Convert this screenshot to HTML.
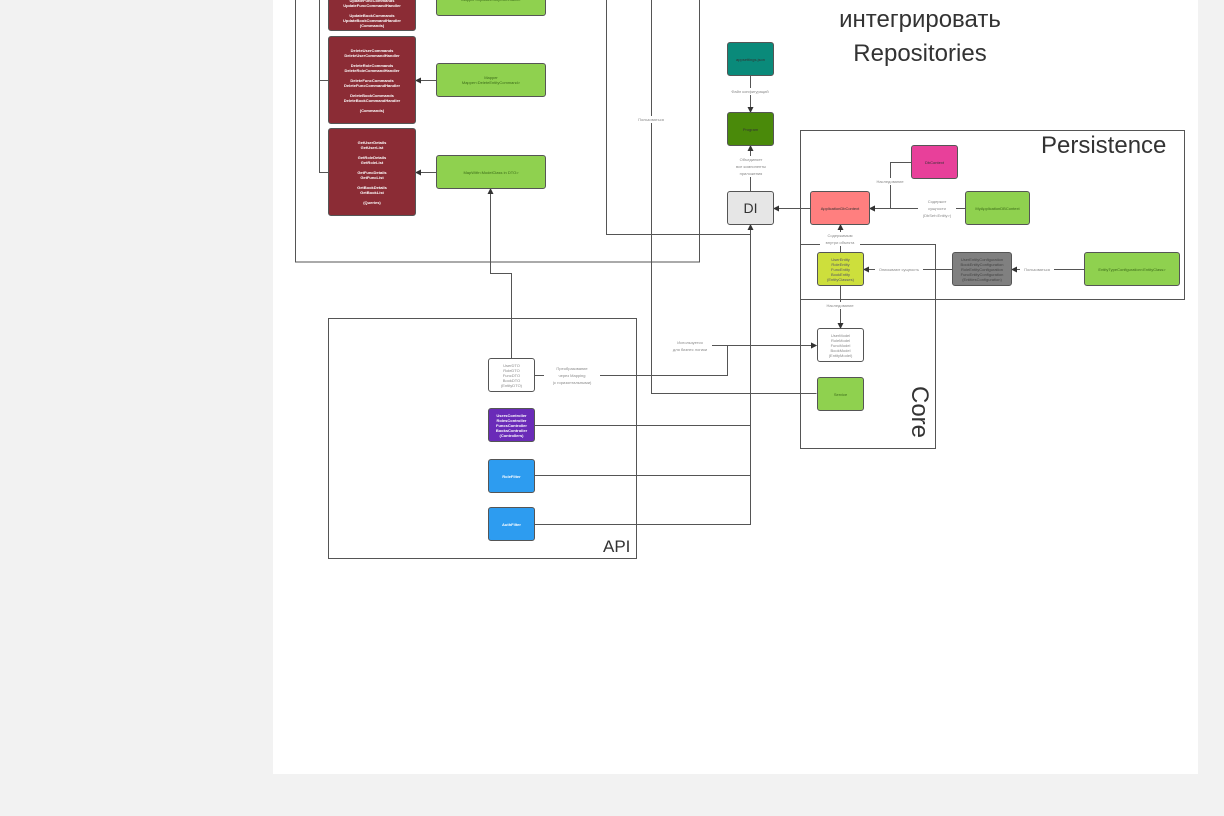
<!DOCTYPE html>
<html><head><meta charset="utf-8"><style>
body{margin:0;width:1224px;height:816px;background:#f2f2f2;position:relative;overflow:hidden;font-family:"Liberation Sans","DejaVu Sans",sans-serif}
.c{position:absolute;left:273px;top:0;width:925px;height:774px;background:#fff}
.n{position:absolute;box-sizing:border-box;border:1px solid #555;border-radius:3px;display:flex;align-items:center;justify-content:center;text-align:center;font-size:4px;line-height:5px;color:#333}
.r{background:#8b2c35;color:#fff;font-weight:bold}
.g{background:#8fd14f;color:#3c6a1a}
.t{position:absolute;color:#333;font-family:"Liberation Sans","DejaVu Sans",sans-serif}
.l{position:absolute;font-size:4px;color:#888;background:#fff;text-align:center;line-height:7px}
</style></head><body>
<div class="c"></div>
<svg width="1224" height="816" style="position:absolute;left:0;top:0">
<defs><marker id="a" markerWidth="6" markerHeight="6" refX="5" refY="3" orient="auto"><path d="M0,0L6,3L0,6z" fill="#333"/></marker></defs>
<g fill="none" stroke="#555" stroke-width="1">
<rect x="295.5" y="-5" width="404" height="267"/>
<rect x="800.5" y="130.5" width="384" height="169"/>
<rect x="800.5" y="244.5" width="135" height="204"/>
<rect x="328.5" y="318.5" width="308" height="240"/>
<path d="M606.5,0V234.5H750.5"/>
<path d="M651.5,0V393.5H816.5"/>
<path d="M319.5,0V172.5H328M319.5,80.5H328"/>
<path d="M534,425.5H750.5"/><path d="M534,475.5H750.5"/>
</g>
<g fill="none" stroke="#555" stroke-width="1" marker-end="url(#a)">
<path d="M436,80.5H416"/><path d="M436,172.5H416"/>
<path d="M750.5,76V112"/><path d="M750.5,191V146"/>
<path d="M810,208.5H774"/><path d="M911,162.5H890.5V208.5H870"/>
<path d="M965,208.5H870"/><path d="M840.5,252V225"/>
<path d="M952,269.5H864"/><path d="M1084,269.5H1012"/>
<path d="M840.5,286V328"/>
<path d="M511.5,358V273.5H490.5V189"/>
<path d="M534,375.5H727.5V345.5H816"/>
<path d="M670,345.5H816"/>
<path d="M534,524.5H750.5V225"/>
</g>
</svg>
<div class="n r" style="left:328px;top:-5px;width:88px;height:36px">UpdateFuncCommands<br>UpdateFuncCommandHandler<br><br>UpdateBookCommands<br>UpdateBookCommandHandler<br>(Commands)</div>
<div class="n r" style="left:328px;top:36px;width:88px;height:88px">DeleteUserCommands<br>DeleteUserCommandHandler<br><br>DeleteRoleCommands<br>DeleteRoleCommandHandler<br><br>DeleteFuncCommands<br>DeleteFuncCommandHandler<br><br>DeleteBookCommands<br>DeleteBookCommandHandler<br><br>(Commands)</div>
<div class="n r" style="left:328px;top:128px;width:88px;height:88px">GetUserDetails<br>GetUserList<br><br>GetRoleDetails<br>GetRoleList<br><br>GetFuncDetails<br>GetFuncList<br><br>GetBookDetails<br>GetBookList<br><br>(Queries)</div>
<div class="n g" style="left:436px;top:-18px;width:110px;height:34px">Mapper&lt;UpdateEntityCommand&gt;</div>
<div class="n g" style="left:436px;top:63px;width:110px;height:34px">Mapper<br>Mapper&lt;DeleteEntityCommand&gt;</div>
<div class="n g" style="left:436px;top:155px;width:110px;height:34px">MapWith&lt;ModelClass in DTO&gt;</div>
<div class="n" style="left:727px;top:42px;width:47px;height:34px;background:#0a8a7a">appsettings.json</div>
<div class="n" style="left:727px;top:112px;width:47px;height:34px;background:#4a8a0a">Program</div>
<div class="n" style="left:727px;top:191px;width:47px;height:34px;background:#e6e6e6;font-size:14px;color:#333">DI</div>
<div class="n" style="left:810px;top:191px;width:60px;height:34px;background:#ff7f7f">ApplicationDbContext</div>
<div class="n" style="left:911px;top:145px;width:47px;height:34px;background:#e8409a">DbContext</div>
<div class="n g" style="left:965px;top:191px;width:65px;height:34px">MyApplicationDBContext</div>
<div class="n" style="left:817px;top:252px;width:47px;height:34px;background:#cddf3c;color:#556">UserEntity<br>RoleEntity<br>FuncEntity<br>BookEntity<br>(EntityClasses)</div>
<div class="n" style="left:952px;top:252px;width:60px;height:34px;background:#808080;color:#444">UserEntityConfiguration<br>BookEntityConfiguration<br>RoleEntityConfiguration<br>FuncEntityConfiguration<br>(EntitiesConfiguration)</div>
<div class="n g" style="left:1084px;top:252px;width:96px;height:34px">EntityTypeConfiguration&lt;EntityClass&gt;</div>
<div class="n" style="left:817px;top:328px;width:47px;height:34px;background:#fff;color:#888">UserModel<br>RoleModel<br>FuncModel<br>BookModel<br>(EntityModel)</div>
<div class="n g" style="left:817px;top:377px;width:47px;height:34px">Service</div>
<div class="n" style="left:488px;top:358px;width:47px;height:34px;background:#fff;color:#888">UserDTO<br>RoleDTO<br>FuncDTO<br>BookDTO<br>(EntityDTO)</div>
<div class="n" style="left:488px;top:408px;width:47px;height:34px;background:#6a2bb8;color:#fff;font-weight:bold">UsersController<br>RolesController<br>FuncsController<br>BooksController<br>(Controllers)</div>
<div class="n" style="left:488px;top:459px;width:47px;height:34px;background:#2d9cf0;color:#fff;font-weight:bold">RoleFilter</div>
<div class="n" style="left:488px;top:507px;width:47px;height:34px;background:#2d9cf0;color:#fff;font-weight:bold">AuthFilter</div>
<div class="l" style="left:726px;top:88px;width:48px">Файл конфигураций</div>
<div class="l" style="left:730px;top:156px;width:42px">Объединяет<br>все компоненты<br>приложения</div>
<div class="l" style="left:630px;top:116px;width:42px">Пользоваться</div>
<div class="l" style="left:872px;top:178px;width:36px">Наследование</div>
<div class="l" style="left:918px;top:198px;width:38px">Содержит<br>сущности<br>(DbSet&lt;Entity&gt;)</div>
<div class="l" style="left:820px;top:232px;width:40px">Содержимым<br>внутри объекта</div>
<div class="l" style="left:875px;top:266px;width:48px">Описывают сущность</div>
<div class="l" style="left:1020px;top:266px;width:34px">Пользоваться</div>
<div class="l" style="left:822px;top:302px;width:36px">Наследование</div>
<div class="l" style="left:668px;top:339px;width:44px">Используется<br>для бизнес логики</div>
<div class="l" style="left:544px;top:365px;width:56px">Преобразование<br>через Mapping<br>(с горизонтальными)</div>
<div class="t" style="left:800px;top:3px;width:240px;text-align:center;font-size:24px;line-height:34px">интегрировать<br>Repositories</div>
<div class="t" style="left:1041px;top:132px;font-size:24px">Persistence</div>
<div class="t" style="left:893px;top:398px;font-size:24px;transform:rotate(90deg);transform-origin:center">Core</div>
<div class="t" style="left:603px;top:537px;font-size:17px">API</div>
</body></html>
